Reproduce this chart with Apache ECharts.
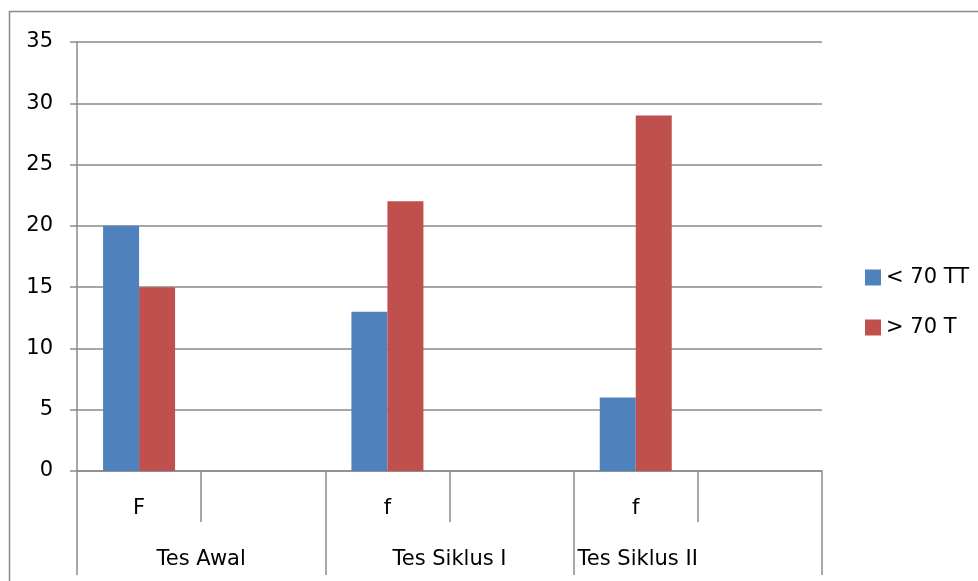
<!DOCTYPE html>
<html>
<head>
<meta charset="utf-8">
<style>
  html, body { margin: 0; padding: 0; background: #ffffff; }
  #chart { width: 978px; height: 581px; }
</style>
<script src="https://cdn.jsdelivr.net/npm/echarts@6/dist/echarts.min.js"></script>
</head>
<body>
<div id="chart"></div>
<script>
// Sub-categories (inner axis) and groups (outer axis)
const subCategories = ['F', '', 'f', '', 'f', ''];
const groups = ['Tes Awal', 'Tes Siklus I', 'Tes Siklus II'];

// Series values per sub-category (empty slots have no bar)
const seriesNames = ['< 70 TT', '> 70 T'];
const belowValues = [20, null, 13, null, 6, null];
const aboveValues = [15, null, 22, null, 29, null];

// Value axis
const yMin = 0, yMax = 35, yStep = 5;

const FONT = 'DejaVu Sans';
const FONT_SIZE = 21;
const GRID_COLOR = '#8a8a8a';

const chart = echarts.init(document.getElementById('chart'));

chart.setOption({
  backgroundColor: '#ffffff',
  animation: false,
  textStyle: { fontFamily: FONT, color: '#000' },
  grid: { left: 77, right: 156, top: 42, bottom: 110, containLabel: false },
  legend: {
    orient: 'vertical',
    left: 865,
    top: 267,
    padding: 0,
    itemWidth: 16,
    itemHeight: 16,
    itemGap: 29,
    icon: 'rect',
    textStyle: { fontFamily: FONT, fontSize: FONT_SIZE, color: '#000' },
    data: seriesNames
  },
  xAxis: [
    {
      type: 'category',
      data: subCategories,
      position: 'bottom',
      boundaryGap: true,
      axisLine: { show: true, lineStyle: { color: GRID_COLOR, width: 1.5 } },
      axisTick: { show: true, interval: 0, length: 51, lineStyle: { color: GRID_COLOR, width: 1.5 } },
      axisLabel: { interval: 0, margin: 27, fontSize: FONT_SIZE, fontFamily: FONT, color: '#000' },
      splitLine: { show: false }
    },
    {
      type: 'category',
      data: [
        groups[0],
        groups[1],
        { value: groups[2], textStyle: { align: 'right' } }
      ],
      position: 'bottom',
      offset: 0,
      boundaryGap: true,
      axisLine: { show: false },
      axisTick: { show: true, interval: 0, length: 104, lineStyle: { color: GRID_COLOR, width: 1.5 } },
      axisLabel: { interval: 0, margin: 78, fontSize: FONT_SIZE, fontFamily: FONT, color: '#000' },
      splitLine: { show: false }
    }
  ],
  yAxis: {
    type: 'value',
    min: yMin,
    max: yMax,
    interval: yStep,
    axisLine: { show: true, lineStyle: { color: GRID_COLOR, width: 1.5 } },
    axisTick: { show: true, length: 7, lineStyle: { color: GRID_COLOR, width: 1.5 } },
    axisLabel: { margin: 24, fontSize: FONT_SIZE, fontFamily: FONT, color: '#000' },
    splitLine: { show: true, lineStyle: { color: GRID_COLOR, width: 1.5 } }
  },
  series: [
    {
      name: seriesNames[0],
      type: 'bar',
      xAxisIndex: 0,
      data: belowValues,
      barWidth: 36,
      barGap: '0%',
      itemStyle: { color: '#4F81BD' }
    },
    {
      name: seriesNames[1],
      type: 'bar',
      xAxisIndex: 0,
      data: aboveValues,
      barWidth: 36,
      barGap: '0%',
      itemStyle: { color: '#C0504D' }
    }
  ],
  graphic: [
    {
      type: 'rect',
      silent: true,
      z: -1,
      shape: { x: 9.5, y: 11.5, width: 1000, height: 600 },
      style: { fill: 'none', stroke: GRID_COLOR, lineWidth: 1.5 }
    }
  ]
});
</script>
</body>
</html>
